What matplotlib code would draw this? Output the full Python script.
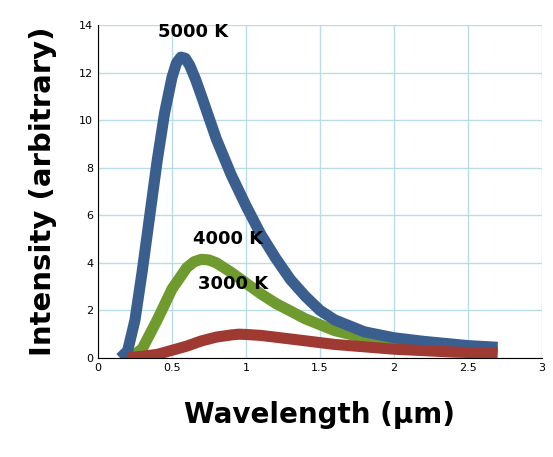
import matplotlib.pyplot as plt

x5000 = [0.15,0.2,0.25,0.3,0.35,0.4,0.45,0.5,0.53,0.56,0.59,0.62,0.66,0.7,0.75,0.8,0.9,1.0,1.1,1.2,1.3,1.4,1.5,1.6,1.8,2.0,2.2,2.5,2.7]
y5000 = [0,0.3,1.6,3.7,6.0,8.3,10.3,11.8,12.4,12.65,12.6,12.3,11.7,11.0,10.1,9.2,7.7,6.4,5.2,4.2,3.3,2.6,2.0,1.6,1.1,0.85,0.7,0.52,0.45]
x4000 = [0.22,0.3,0.4,0.5,0.6,0.65,0.7,0.75,0.8,0.9,1.0,1.1,1.2,1.4,1.6,1.8,2.0,2.3,2.7]
y4000 = [0,0.4,1.6,2.9,3.8,4.05,4.15,4.12,4.0,3.6,3.15,2.7,2.3,1.65,1.15,0.85,0.62,0.42,0.3]
x3000 = [0.2,0.4,0.6,0.7,0.8,0.9,0.95,1.0,1.1,1.3,1.6,2.0,2.4,2.7]
y3000 = [0,0.15,0.5,0.72,0.88,0.97,1.0,0.99,0.95,0.8,0.57,0.37,0.25,0.2]
labels = ["5000 K","4000 K","3000 K"]

fig = plt.figure(figsize=(5.53,4.57), dpi=100)
ax = fig.add_axes([98/553, 1-358/457, 444/553, 333/457])
kw = dict(lw=8, solid_capstyle='butt', solid_joinstyle='round')
ax.plot(x4000, y4000, color='#6e9a2e', **kw)
ax.plot(x5000, y5000, color='#3a5f8f', **kw)
ax.plot(x3000, y3000, color='#9e3a32', **kw)
ax.set_xlim(0,3); ax.set_ylim(0,14)
ax.set_xticks([0,0.5,1,1.5,2,2.5,3]); ax.set_xticklabels(['0','0.5','1','1.5','2','2.5','3'])
ax.set_yticks(range(0,15,2))
ax.tick_params(labelsize=8, length=0)
ax.grid(color='#b8dcea', lw=1)
for s in ['top','right']: ax.spines[s].set_visible(False)
ax.text(0.64,13.7,labels[0],fontsize=13,fontweight='bold',ha='center',va='center')
ax.text(0.88,5.0,labels[1],fontsize=13,fontweight='bold',ha='center',va='center')
ax.text(0.91,3.1,labels[2],fontsize=13,fontweight='bold',ha='center',va='center')
ax.set_xlabel('Wavelength (μm)', fontsize=20, fontweight='bold', labelpad=20)
ax.set_ylabel('Intensity (arbitrary)', fontsize=21, fontweight='heavy', labelpad=16)
fig.savefig('out.png', dpi=100)
